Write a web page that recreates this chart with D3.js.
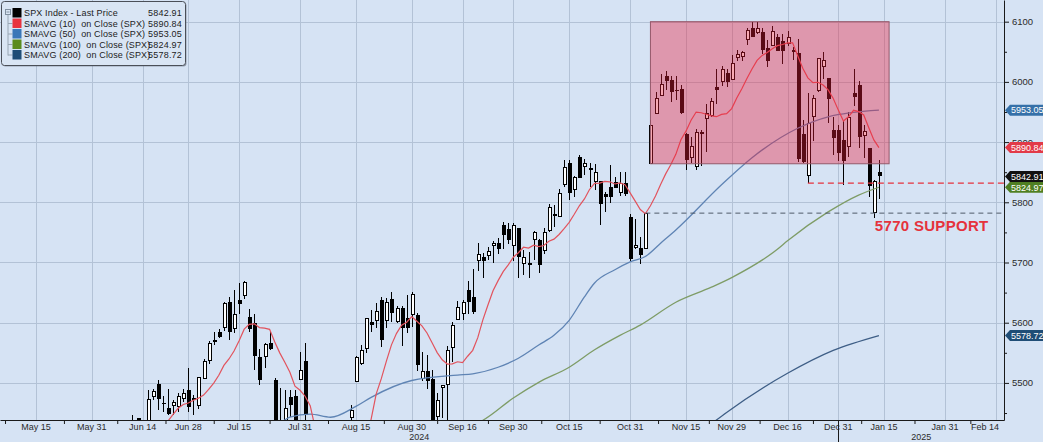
<!DOCTYPE html>
<html><head><meta charset="utf-8">
<script src="https://cdn.jsdelivr.net/npm/d3@7"></script>
<style>
html,body{margin:0;padding:0;background:#d6e3f4;}
svg{display:block;}
text{font-family:"Liberation Sans",Arial,sans-serif;}
</style></head><body>
<svg id="c" width="1043" height="442"></svg>
<script>
// ---------------- DATA ----------------
const dates = [
"2024-06-10","2024-06-11","2024-06-12","2024-06-13","2024-06-14","2024-06-17","2024-06-18","2024-06-20","2024-06-21","2024-06-24","2024-06-25","2024-06-26","2024-06-27","2024-06-28",
"2024-07-01","2024-07-02","2024-07-03","2024-07-05","2024-07-08","2024-07-09","2024-07-10","2024-07-11","2024-07-12","2024-07-15","2024-07-16","2024-07-17","2024-07-18","2024-07-19","2024-07-22","2024-07-23","2024-07-24","2024-07-25","2024-07-26","2024-07-29","2024-07-30","2024-07-31",
"2024-08-01","2024-08-02","2024-08-05","2024-08-06","2024-08-07","2024-08-08","2024-08-09","2024-08-12","2024-08-13","2024-08-14","2024-08-15","2024-08-16","2024-08-19","2024-08-20","2024-08-21","2024-08-22","2024-08-23","2024-08-26","2024-08-27","2024-08-28","2024-08-29","2024-08-30",
"2024-09-03","2024-09-04","2024-09-05","2024-09-06","2024-09-09","2024-09-10","2024-09-11","2024-09-12","2024-09-13","2024-09-16","2024-09-17","2024-09-18","2024-09-19","2024-09-20","2024-09-23","2024-09-24","2024-09-25","2024-09-26","2024-09-27","2024-09-30",
"2024-10-01","2024-10-02","2024-10-03","2024-10-04","2024-10-07","2024-10-08","2024-10-09","2024-10-10","2024-10-11","2024-10-14","2024-10-15","2024-10-16","2024-10-17","2024-10-18","2024-10-21","2024-10-22","2024-10-23","2024-10-24","2024-10-25","2024-10-28","2024-10-29","2024-10-30","2024-10-31",
"2024-11-01","2024-11-04","2024-11-05","2024-11-06","2024-11-07","2024-11-08","2024-11-11","2024-11-12","2024-11-13","2024-11-14","2024-11-15","2024-11-18","2024-11-19","2024-11-20","2024-11-21","2024-11-22","2024-11-25","2024-11-26","2024-11-27","2024-11-29",
"2024-12-02","2024-12-03","2024-12-04","2024-12-05","2024-12-06","2024-12-09","2024-12-10","2024-12-11","2024-12-12","2024-12-13","2024-12-16","2024-12-17","2024-12-18","2024-12-19","2024-12-20","2024-12-23","2024-12-24","2024-12-26","2024-12-27","2024-12-30","2024-12-31",
"2025-01-02","2025-01-03","2025-01-06","2025-01-07","2025-01-08","2025-01-10","2025-01-13","2025-01-14"];

const open = [
5341,5353,5409,5441,5424,5431,5477,5499,5466,5459,5461,5460,5474,5488,
5471,5461,5507,5537,5572,5585,5591,5635,5590,5638,5644,5610,5599,5543,5543,5566,5505,5428,5434,5477,5479,5505,
5537,5376,5151,5206,5294,5253,5313,5353,5376,5442,5502,5531,5557,5602,5603,5637,5603,5639,5602,5624,5607,5613,
5612,5507,5520,5507,5443,5491,5496,5558,5604,5615,5655,5642,5703,5709,5711,5727,5733,5762,5756,5727,
5757,5698,5698,5737,5737,5719,5752,5778,5775,5829,5866,5821,5875,5859,5857,5833,5835,5814,5826,5833,5816,5832,5775,
5724,5724,5722,5864,5947,5977,6009,6003,5986,5989,5913,5874,5858,5915,5938,5944,5992,6000,6014,6003,
6040,6042,6069,6089,6081,6083,6057,6060,6074,6068,6063,6053,6048,5913,5843,5941,5985,6025,6006,5920,5920,
5903,5892,5982,5994,5910,5890,5782,5851];

const high = [
5365,5376,5447,5441,5432,5488,5490,5505,5478,5490,5472,5483,5490,5524,
5480,5510,5540,5570,5584,5590,5635,5642,5655,5666,5669,5622,5614,5557,5566,5586,5508,5491,5488,5488,5489,5552,
5567,5384,5250,5312,5330,5327,5351,5372,5435,5464,5545,5563,5608,5621,5632,5643,5641,5651,5628,5628,5646,5651,
5616,5552,5546,5522,5484,5497,5561,5601,5636,5637,5670,5690,5733,5716,5725,5735,5741,5767,5765,5765,
5758,5720,5718,5753,5739,5757,5797,5796,5822,5871,5870,5843,5878,5872,5866,5863,5835,5817,5862,5842,5851,5851,5780,
5772,5742,5783,5936,5983,6013,6018,6010,6009,5994,5915,5909,5922,5920,5963,5973,6021,6026,6021,6045,
6053,6052,6089,6100,6099,6089,6069,6093,6080,6079,6085,6058,6071,5936,5982,5978,6040,6050,6007,5941,5929,
5935,5950,6022,6001,5928,5891,5837,5871];

const low = [
5331,5331,5405,5404,5403,5421,5471,5455,5452,5447,5446,5452,5469,5451,
5446,5456,5507,5531,5563,5574,5587,5571,5583,5614,5640,5584,5522,5497,5525,5554,5419,5391,5430,5444,5398,5505,
5410,5302,5120,5193,5195,5236,5301,5324,5376,5416,5502,5530,5550,5584,5591,5560,5591,5602,5600,5561,5583,5593,
5520,5503,5490,5402,5434,5442,5406,5535,5604,5605,5614,5615,5686,5674,5704,5699,5714,5722,5730,5703,
5675,5680,5675,5704,5683,5714,5751,5759,5775,5826,5804,5809,5840,5846,5825,5821,5762,5784,5799,5823,5811,5810,5703,
5723,5697,5722,5864,5946,5976,5986,5966,5970,5946,5854,5866,5853,5860,5884,5942,5963,5993,5992,6003,
6034,6034,6061,6075,6079,6047,6024,6060,6051,6030,6059,6036,5867,5866,5832,5902,5983,6004,5932,5879,5869,
5829,5876,5960,5891,5874,5809,5774,5805];

const close = [
5361,5375,5421,5434,5431,5473,5487,5473,5465,5448,5469,5478,5483,5460,
5475,5509,5537,5567,5572,5577,5633,5585,5615,5631,5667,5589,5545,5505,5564,5556,5427,5400,5459,5464,5436,5522,
5446,5347,5186,5240,5200,5319,5344,5345,5434,5455,5543,5554,5608,5597,5620,5571,5634,5616,5625,5592,5592,5648,
5529,5520,5503,5408,5471,5496,5554,5596,5626,5634,5635,5618,5714,5703,5719,5732,5722,5745,5738,5762,
5709,5709,5700,5751,5696,5751,5792,5780,5815,5859,5815,5842,5841,5865,5853,5851,5797,5809,5808,5823,5832,5813,5705,
5729,5712,5782,5929,5973,5996,6001,5984,5985,5949,5871,5894,5917,5917,5949,5969,5987,6021,5999,6032,
6047,6049,6087,6075,6090,6053,6034,6084,6051,6051,6074,6050,5872,5867,5931,5974,6040,6037,5971,5907,5882,
5869,5942,5975,5909,5918,5827,5836,5842.91];

const sma10 = [
5307.5,5314.4,5329.8,5349.6,5364.9,5383.9,5403.5,5415.4,5426.7,5436.8,5447.6,5457.9,5464.1,5466.7,
5471.1,5474.7,5479.7,5489.1,5499.8,5512.7,5529.1,5539.8,5553.0,5570.1,5589.3,5597.3,5598.1,5591.9,5591.1,5589.0,5568.4,5549.9,5534.3,5517.6,5494.5,5487.8,
5477.9,5462.1,5424.3,5392.7,5370.0,5361.9,5350.4,5338.5,5338.3,5331.6,5341.3,5362.0,5404.2,5439.9,5481.9,5507.1,5536.1,5563.2,5582.3,5596.0,5600.9,5610.3,
5602.4,5594.7,5583.0,5566.7,5550.4,5538.4,5531.3,5531.7,5535.1,5533.7,5544.3,5554.1,5575.2,5604.7,5629.5,5653.1,5669.9,5684.8,5696.0,5708.8,
5716.2,5725.3,5723.9,5728.7,5726.4,5728.3,5735.3,5738.8,5746.5,5756.2,5766.8,5780.1,5794.2,5805.6,5821.3,5831.3,5831.8,5834.7,5834.0,5830.4,5832.1,5829.2,5815.6,
5802.0,5787.9,5781.0,5794.2,5810.6,5829.4,5847.2,5862.4,5879.6,5904.0,5918.2,5936.4,5949.9,5948.7,5946.3,5943.6,5942.2,5945.9,5947.3,5955.6,
5973.2,5988.7,6005.7,6021.5,6035.6,6044.0,6048.7,6055.0,6060.2,6062.1,6064.8,6064.9,6043.4,6022.6,6006.7,5998.8,5999.4,5994.7,5986.7,5972.3,5953.1,
5935.0,5942.0,5952.8,5950.6,5945.0,5923.7,5903.6,5890.84];

const sma50Dates = ["2024-07-25","2024-07-29","2024-08-02","2024-08-08","2024-08-15","2024-08-20","2024-08-30","2024-09-13","2024-09-18","2024-09-25","2024-10-01","2024-10-07","2024-10-10","2024-10-15","2024-10-18","2024-10-22","2024-10-28","2024-10-31","2024-11-05","2024-11-08","2024-11-13","2024-11-26","2024-12-05","2024-12-18","2024-12-27","2025-01-14"];
const sma50 = [5432,5443,5448,5443,5461,5476,5504,5513,5515,5526,5541,5563,5579,5604,5643,5666,5688,5701,5710,5732,5754,5829,5874,5923,5942,5953.05];

const sma100Dates = ["2024-09-18","2024-09-20","2024-09-30","2024-10-07","2024-10-15","2024-10-22","2024-10-29","2024-11-04","2024-11-13","2024-11-22","2024-11-29","2024-12-12","2024-12-16","2024-12-27","2025-01-07","2025-01-14"];
const sma100 = [5430,5438,5475,5501,5526,5555,5579,5596,5634,5659,5675,5722,5736,5784,5812,5824.97];

const sma200Dates = ["2024-11-22","2024-11-27","2024-12-16","2024-12-30","2025-01-14"];
const sma200 = [5432,5451,5516,5554,5578.72];

const xTickDates  = ["2024-05-15","2024-05-31","2024-06-14","2024-06-28","2024-07-15","2024-07-31","2024-08-15","2024-08-30","2024-09-16","2024-09-30","2024-10-15","2024-10-31","2024-11-15","2024-11-29","2024-12-16","2024-12-31","2025-01-15","2025-01-31","2025-02-14"];
const xTickLabels = ["May 15","May 31","Jun 14","Jun 28","Jul 15","Jul 31","Aug 15","Aug 30","Sep 16","Sep 30","Oct 15","Oct 31","Nov 15","Nov 29","Dec 16","Dec 31","Jan 15","Jan 31","Feb 14"];
const yTicks = [5500,5600,5700,5800,5900,6000,6100];
const yMinorTicks = [5450,5550,5650,5750,5850,5950,6050];

const legendNames  = ["SPX Index - Last Price","SMAVG (10)  on Close (SPX)","SMAVG (50)  on Close (SPX)","SMAVG (100)  on Close (SPX)","SMAVG (200)  on Close (SPX)"];
const legendValues = [5842.91,5890.84,5953.05,5824.97,5578.72];

const boxFrom = "2024-11-06", boxTo = "2025-01-16", boxTop = 6100, boxBottom = 5864;
const redLevel = 5832, redFrom = "2024-12-20";
const greyLevel = 5782, greyFrom = "2024-11-05";
const supportText = "5770 SUPPORT", supportValue = 5770, supportFrom = "2025-01-13";

// ---------------- SETUP ----------------
const W = 1004, H = 420;
const svg = d3.select("#c");
svg.append("rect").attr("width",1043).attr("height",442).attr("fill","#d6e3f4");

const holidays = new Set(["2024-05-27","2024-06-19","2024-07-04","2024-09-02","2024-11-28","2024-12-25","2025-01-01","2025-01-09"]);
const cal = [];
for (let t = Date.UTC(2024,4,1); t <= Date.UTC(2025,1,28); t += 864e5) {
  const d = new Date(t), wd = d.getUTCDay(), s = d.toISOString().slice(0,10);
  if (wd !== 0 && wd !== 6 && !holidays.has(s)) cal.push(s);
}
const pos = new Map(cal.map((s,i)=>[s,i]));
const pxPerDay = 5.078;
const i0 = pos.get("2024-05-15");
const x = d3.scaleLinear().domain([i0 - 36/pxPerDay, i0 + (W-36)/pxPerDay]).range([0, W]);
const xd = s => x(pos.get(s));
const y = d3.scaleLinear().domain([5438.4, 6136]).range([H, 0]);

const colors = {spx:"#000000", s10:"#e2535d", s50:"#5f84b4", s100:"#7e9c66", s200:"#3e5e86"};

svg.append("clipPath").attr("id","clip").append("rect").attr("x",0).attr("y",0).attr("width",W).attr("height",H);

// grid
const grid = svg.append("g").attr("stroke","#b3c2d6").attr("stroke-width",1).attr("shape-rendering","crispEdges");
grid.selectAll("line.h").data(yTicks).join("line").attr("class","h")
  .attr("x1",0).attr("x2",W).attr("y1",d=>Math.round(y(d))+0.5).attr("y2",d=>Math.round(y(d))+0.5);
grid.selectAll("line.v").data(xTickDates).join("line").attr("class","v")
  .attr("x1",d=>Math.round(xd(d))+0.5).attr("x2",d=>Math.round(xd(d))+0.5).attr("y1",0).attr("y2",H);

const plot = svg.append("g").attr("clip-path","url(#clip)");

// candles
const rows = dates.map((d,i)=>({date:d, o:open[i], h:high[i], l:low[i], c:close[i]}));
const cg = plot.append("g").attr("shape-rendering","crispEdges");
cg.selectAll("line").data(rows).join("line")
  .attr("x1",d=>Math.round(xd(d.date))+0.5).attr("x2",d=>Math.round(xd(d.date))+0.5)
  .attr("y1",d=>y(d.h)).attr("y2",d=>y(d.l)).attr("stroke","#000").attr("stroke-width",1);
cg.selectAll("rect").data(rows).join("rect")
  .attr("x",d=>Math.round(xd(d.date)) + (d.c>=d.o?-1:-1.5))
  .attr("width",d=>d.c>=d.o?3:4)
  .attr("y",d=>y(Math.max(d.o,d.c)) + (d.c>=d.o?0.5:0))
  .attr("height",d=>Math.max(1, Math.abs(y(d.o)-y(d.c)) - (d.c>=d.o?1:0)))
  .attr("fill",d=>d.c>=d.o?"#ffffff":"#000000")
  .attr("stroke",d=>d.c>=d.o?"#000":"none").attr("stroke-width",1);

// moving averages
const line = d3.line().x(d=>xd(d[0])).y(d=>y(d[1]));
const lineSmooth = d3.line().x(d=>xd(d[0])).y(d=>y(d[1])).curve(d3.curveMonotoneX);
plot.append("path").attr("d",lineSmooth(d3.zip(sma200Dates,sma200))).attr("fill","none").attr("stroke",colors.s200).attr("stroke-width",1.3);
plot.append("path").attr("d",lineSmooth(d3.zip(sma100Dates,sma100))).attr("fill","none").attr("stroke",colors.s100).attr("stroke-width",1.3);
plot.append("path").attr("d",lineSmooth(d3.zip(sma50Dates,sma50))).attr("fill","none").attr("stroke",colors.s50).attr("stroke-width",1.3);
plot.append("path").attr("d",line(d3.zip(dates,sma10))).attr("fill","none").attr("stroke",colors.s10).attr("stroke-width",1.2);

// highlighted box
plot.append("rect")
  .attr("x",xd(boxFrom)).attr("y",y(boxTop))
  .attr("width",xd(boxTo)-xd(boxFrom)).attr("height",y(boxBottom)-y(boxTop))
  .attr("fill","rgb(236,28,58)").attr("fill-opacity",0.38)
  .attr("stroke","#95586a").attr("stroke-width",1);

// dashed levels
plot.append("line").attr("x1",xd(greyFrom)).attr("x2",W).attr("y1",y(greyLevel)).attr("y2",y(greyLevel))
  .attr("stroke","#4e5a68").attr("stroke-width",1).attr("stroke-dasharray","5,4");
plot.append("line").attr("x1",xd(redFrom)).attr("x2",W).attr("y1",y(redLevel)).attr("y2",y(redLevel))
  .attr("stroke","#e5323c").attr("stroke-width",1.3).attr("stroke-dasharray","6,4");

// support text
svg.append("text").attr("x",xd(supportFrom)+1).attr("y",y(supportValue)+11)
  .attr("font-size",15).attr("font-weight","bold").attr("letter-spacing",0.3).attr("fill","#e5323c").text(supportText);

// ---------------- AXES ----------------
const fontFam = '"Liberation Sans", Arial, sans-serif';
const yAx = svg.append("g").attr("transform",`translate(${W},0)`)
  .call(d3.axisRight(y).tickValues(yTicks).tickSize(5).tickPadding(3).tickSizeOuter(0).tickFormat(d3.format("d")));
yAx.attr("font-family",fontFam).attr("font-size",9.5);
yAx.selectAll("text").attr("fill","#2b2b2b");
yAx.select(".domain").attr("stroke","#1a1a1a");
yAx.selectAll(".tick line").attr("stroke","#1a1a1a");
const yMin = svg.append("g").attr("transform",`translate(${W},0)`)
  .call(d3.axisRight(y).tickValues(yMinorTicks).tickSize(3).tickFormat(""));
yMin.select(".domain").remove();
yMin.selectAll(".tick line").attr("stroke","#1a1a1a");

const xIdx = xTickDates.map(s=>pos.get(s));
const xAx = svg.append("g").attr("transform",`translate(0,${H})`)
  .call(d3.axisBottom(x).tickValues(xIdx).tickSize(0).tickPadding(4).tickSizeOuter(0).tickFormat((d,i)=>xTickLabels[i]));
xAx.attr("font-family",fontFam).attr("font-size",9);
xAx.selectAll("text").attr("fill","#2b2b2b");
xAx.select(".domain").attr("stroke","#1a1a1a");
xAx.selectAll(".tick").attr("transform",function(d){ const px = Math.min(x(d), W-19); return `translate(${px},0)`; });
const mids = d3.pairs(xIdx).map(([a,b])=>(a+b)/2);
mids.unshift(xIdx[0] - (xIdx[1]-xIdx[0])/2 - 0.6);
const xMin = svg.append("g").attr("transform",`translate(0,${H})`)
  .call(d3.axisBottom(x).tickValues(mids).tickSize(4).tickFormat(""));
xMin.select(".domain").remove();
xMin.selectAll(".tick line").attr("stroke","#1a1a1a");

const sepX = Math.round(xd("2024-12-31"))+0.5;
svg.append("line").attr("x1",sepX).attr("x2",sepX).attr("y1",H).attr("y2",442).attr("stroke","#1a1a1a");
svg.append("text").attr("x",sepX/2).attr("y",440).attr("text-anchor","middle").attr("font-size",9).attr("fill","#2b2b2b").text("2024");
svg.append("text").attr("x",(sepX+W)/2).attr("y",440).attr("text-anchor","middle").attr("font-size",9).attr("fill","#2b2b2b").text("2025");

// ---------------- VALUE TAGS ----------------
const tagColors = ["#111","#e23a48","#3570a8","#4f7f22","#1f4d76"];
const tagOrder = [4,2,1,3,0];
const tags = svg.append("g");
tagOrder.forEach(i=>{
  const v = legendValues[i], yy = y(v);
  tags.append("path").attr("d",`M${W+1},${yy} L${W+6},${yy-5.5} L1045,${yy-5.5} L1045,${yy+5.5} L${W+6},${yy+5.5} Z`)
    .attr("fill",tagColors[i]);
  tags.append("text").attr("x",W+7).attr("y",yy+3.3).attr("font-size",9).attr("fill","#fff").text(d3.format(".2f")(v));
});

// ---------------- LEGEND ----------------
const lg = svg.append("g");
lg.append("rect").attr("x",2.5).attr("y",2.5).attr("width",184).attr("height",64).attr("rx",3).attr("fill","#5a6270").attr("opacity",0.5);
lg.append("rect").attr("x",1.5).attr("y",1.5).attr("width",184).attr("height",64).attr("rx",3)
  .attr("fill","#d9e5f4").attr("stroke","#4a4f58").attr("stroke-width",1);
const legColors = [colors.spx, "#e8333f", "#3a77b8", "#5b8c1e", "#1f4d76"];
lg.append("rect").attr("x",5.5).attr("y",9.5).attr("width",5).attr("height",5).attr("fill","none").attr("stroke","#8090a0");
lg.append("line").attr("x1",6.5).attr("x2",9.5).attr("y1",12).attr("y2",12).attr("stroke","#8090a0");
lg.append("line").attr("x1",8).attr("x2",8).attr("y1",15).attr("y2",55.5).attr("stroke","#98a6b4");
legendNames.forEach((n,i)=>{
  const cy = 12.5 + i*10.5;
  if (i>0) lg.append("line").attr("x1",8).attr("x2",12.5).attr("y1",cy+0.5).attr("y2",cy+0.5).attr("stroke","#98a6b4");
  lg.append("rect").attr("x",12.5).attr("y",cy-4.5).attr("width",9).attr("height",9.5).attr("fill",legColors[i]);
  lg.append("text").attr("x",24).attr("y",cy+3.5).attr("font-size",9).attr("letter-spacing",0.15).attr("fill","#1c1c1c")
    .attr("xml:space","preserve").style("white-space","pre").text(n);
  lg.append("text").attr("x",182).attr("y",cy+3.5).attr("text-anchor","end").attr("font-size",9).attr("letter-spacing",0.2).attr("fill","#1c1c1c")
    .text(d3.format(".2f")(legendValues[i]));
});
</script></body></html>
